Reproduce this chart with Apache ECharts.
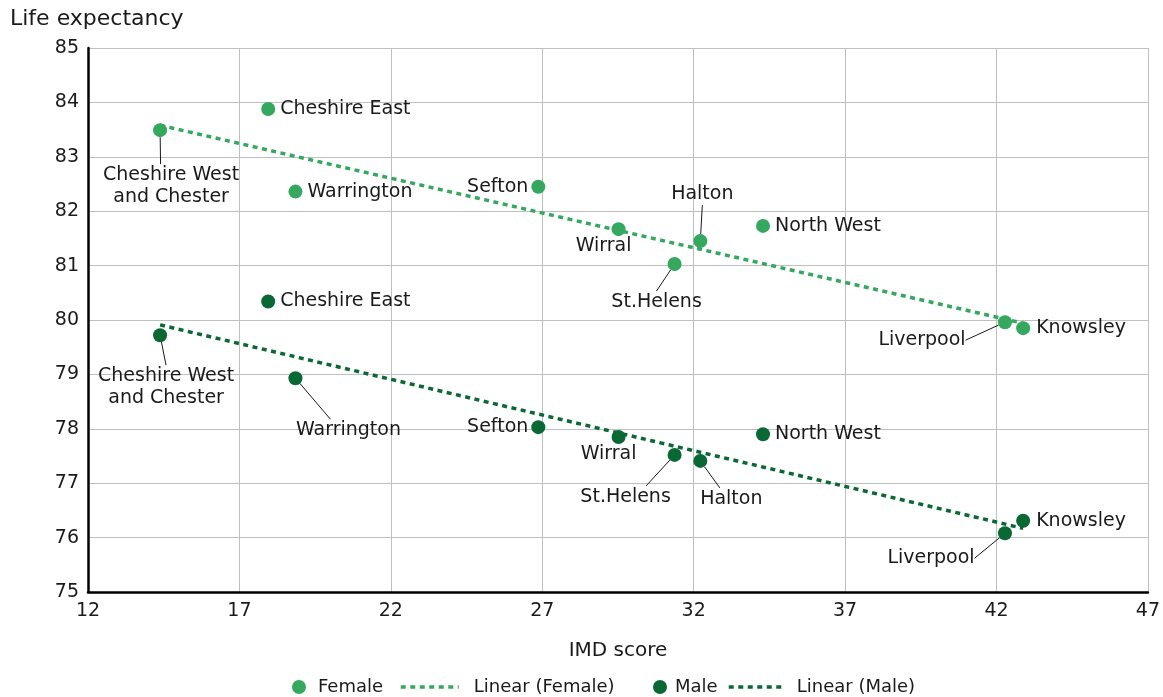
<!DOCTYPE html>
<html>
<head>
<meta charset="utf-8">
<script src="https://cdn.jsdelivr.net/npm/echarts@6/dist/echarts.min.js"></script>
<style>
  html, body { margin: 0; padding: 0; background: #ffffff; }
  #chart { width: 1163px; height: 697px; }
</style>
</head>
<body>
<div id="chart"></div>
<script>
// ---- Data ----
const areas = ['Cheshire West and Chester', 'Cheshire East', 'Warrington', 'Sefton', 'Wirral',
               'Halton', 'St.Helens', 'North West', 'Liverpool', 'Knowsley'];
const imdScore = [14.38, 17.95, 18.85, 26.87, 29.52, 32.22, 31.37, 34.29, 42.28, 42.88];
const femaleLE = [83.49, 83.88, 82.36, 82.45, 81.67, 81.45, 81.03, 81.73, 79.96, 79.85];
const maleLE   = [79.72, 80.34, 78.93, 78.03, 77.85, 77.41, 77.52, 77.90, 76.08, 76.31];
// Linear trend lines (end values)
const femaleTrendX = [14.38, 42.88];
const femaleTrendY = [83.58, 79.94];
const maleTrendX = [14.38, 42.88];
const maleTrendY = [79.91, 76.17];
const xTicks = { min: 12, max: 47, step: 5 };
const yTicks = { min: 75, max: 85, step: 1 };

// ---- Styling / label placement (not data) ----
const FONT = '"DejaVu Sans", sans-serif';
const TEXT = '#1a1a1a';
const FEMALE_C = '#34A85E';
const MALE_C = '#0A6834';

// side labels use position; moved labels use offsets (px) of the text centre from the point centre;
// pad = [left, right] padding used to steer where the leader line meets the label box
const femaleLabelCfg = {
  'Cheshire West and Chester': { off: [11, 56], line: true, pad: [21, 0] },
  'Cheshire East': { pos: 'right', dist: 5 },
  'Warrington': { pos: 'right', dist: 5 },
  'Sefton': { pos: 'left', dist: 3 },
  'Wirral': { off: [-15, 17] },
  'Halton': { off: [2, -47], line: true },
  'St.Helens': { off: [-18, 38], line: true },
  'North West': { pos: 'right', dist: 5 },
  'Liverpool': { off: [-83, 18], line: true },
  'Knowsley': { pos: 'right', dist: 6 }
};
const maleLabelCfg = {
  'Cheshire West and Chester': { off: [6, 52], line: true },
  'Cheshire East': { pos: 'right', dist: 5 },
  'Warrington': { off: [53, 52], line: true, pad: [36, 0] },
  'Sefton': { pos: 'left', dist: 3 },
  'Wirral': { off: [-10, 17] },
  'Halton': { off: [31, 38], line: true, pad: [23, 0] },
  'St.Helens': { off: [-49, 42], line: true, pad: [0, 41] },
  'North West': { pos: 'right', dist: 5 },
  'Liverpool': { off: [-74, 25], line: true },
  'Knowsley': { pos: 'right', dist: 6 }
};

function buildPoints(values, cfg) {
  return areas.map((name, i) => {
    const c = cfg[name];
    const item = { name: name, value: [imdScore[i], values[i]] };
    if (c.off) {
      const pad = c.pad || [0, 0];
      item.label = { position: 'inside', align: 'center', verticalAlign: 'middle',
                     padding: [0, pad[1], 0, pad[0]] };
      item.labelLine = { show: !!c.line };
    } else {
      item.label = { position: c.pos, distance: c.dist };
      item.labelLine = { show: false };
    }
    return item;
  });
}

function layoutFor(cfg) {
  return function (params) {
    const c = cfg[areas[params.dataIndex]];
    if (c && c.off) {
      const pad = c.pad || [0, 0];
      return { dx: c.off[0] - (pad[0] - pad[1]) / 2, dy: c.off[1] };
    }
    return {};
  };
}

function pairs(xs, ys) { return xs.map((x, i) => [x, ys[i]]); }

const labelStyle = {
  show: true,
  color: TEXT,
  fontFamily: FONT,
  fontSize: 19,
  lineHeight: 22,
  formatter: p => p.name.replace(' and ', '\nand ')
};
const labelLineStyle = { lineStyle: { color: '#1a1a1a', width: 1 } };
const legendText = { fontSize: 18, color: TEXT, fontFamily: FONT };
const dash = [5, 4.5];

const chart = echarts.init(document.getElementById('chart'), null, { renderer: 'canvas' });
chart.setOption({
  backgroundColor: '#ffffff',
  animation: false,
  textStyle: { fontFamily: FONT },
  title: {
    text: 'Life expectancy',
    left: 10, top: 8, padding: 0,
    textStyle: { fontFamily: FONT, fontSize: 22, fontWeight: 'normal', color: TEXT }
  },
  grid: { left: 88, right: 11, top: 48, bottom: 105, containLabel: false },
  xAxis: {
    type: 'value',
    min: xTicks.min, max: xTicks.max, interval: xTicks.step,
    name: 'IMD score',
    nameLocation: 'middle',
    nameGap: 49,
    nameTextStyle: { fontFamily: FONT, fontSize: 20, color: TEXT },
    axisLine: { show: true, onZero: false, lineStyle: { color: '#000', width: 2.5 } },
    axisTick: { show: false },
    axisLabel: { color: TEXT, fontSize: 19, fontFamily: FONT, margin: 10 },
    splitLine: { show: true, lineStyle: { color: '#bfbfbf', width: 1 } }
  },
  yAxis: {
    type: 'value',
    min: yTicks.min, max: yTicks.max, interval: yTicks.step,
    axisLine: { show: true, onZero: false, lineStyle: { color: '#000', width: 2.5 } },
    axisTick: { show: false },
    axisLabel: { color: TEXT, fontSize: 19, fontFamily: FONT, margin: 9 },
    splitLine: { show: true, lineStyle: { color: '#bfbfbf', width: 1 } }
  },
  legend: [
    { data: ['Female'], left: 292, top: 678, padding: 0, itemWidth: 28, itemHeight: 14, icon: 'circle',
      textStyle: legendText },
    { data: ['Linear (Female)'], left: 399, top: 678, padding: 0, itemWidth: 58, itemHeight: 14,
      itemStyle: { opacity: 0 },
      lineStyle: { color: FEMALE_C, width: 3.5, type: dash },
      textStyle: Object.assign({ padding: [0, 0, 0, 10] }, legendText) },
    { data: ['Male'], left: 653, top: 678, padding: 0, itemWidth: 20, itemHeight: 14, icon: 'circle',
      textStyle: legendText },
    { data: ['Linear (Male)'], left: 727, top: 678, padding: 0, itemWidth: 55, itemHeight: 14,
      itemStyle: { opacity: 0 },
      lineStyle: { color: MALE_C, width: 3.5, type: dash },
      textStyle: Object.assign({ padding: [0, 0, 0, 8] }, legendText) }
  ],
  series: [
    {
      name: 'Linear (Female)', type: 'line', data: pairs(femaleTrendX, femaleTrendY),
      symbol: 'none', z: 1,
      lineStyle: { color: FEMALE_C, width: 3.5, type: dash },
      itemStyle: { color: FEMALE_C }
    },
    {
      name: 'Linear (Male)', type: 'line', data: pairs(maleTrendX, maleTrendY),
      symbol: 'none', z: 1,
      lineStyle: { color: MALE_C, width: 3.5, type: dash },
      itemStyle: { color: MALE_C }
    },
    {
      name: 'Female', type: 'scatter', symbolSize: 14, z: 3,
      itemStyle: { color: FEMALE_C, opacity: 1 },
      data: buildPoints(femaleLE, femaleLabelCfg),
      label: labelStyle,
      labelLine: labelLineStyle,
      labelLayout: layoutFor(femaleLabelCfg),
      emphasis: { disabled: true }
    },
    {
      name: 'Male', type: 'scatter', symbolSize: 14, z: 3,
      itemStyle: { color: MALE_C, opacity: 1 },
      data: buildPoints(maleLE, maleLabelCfg),
      label: labelStyle,
      labelLine: labelLineStyle,
      labelLayout: layoutFor(maleLabelCfg),
      emphasis: { disabled: true }
    }
  ]
});
</script>
</body>
</html>
